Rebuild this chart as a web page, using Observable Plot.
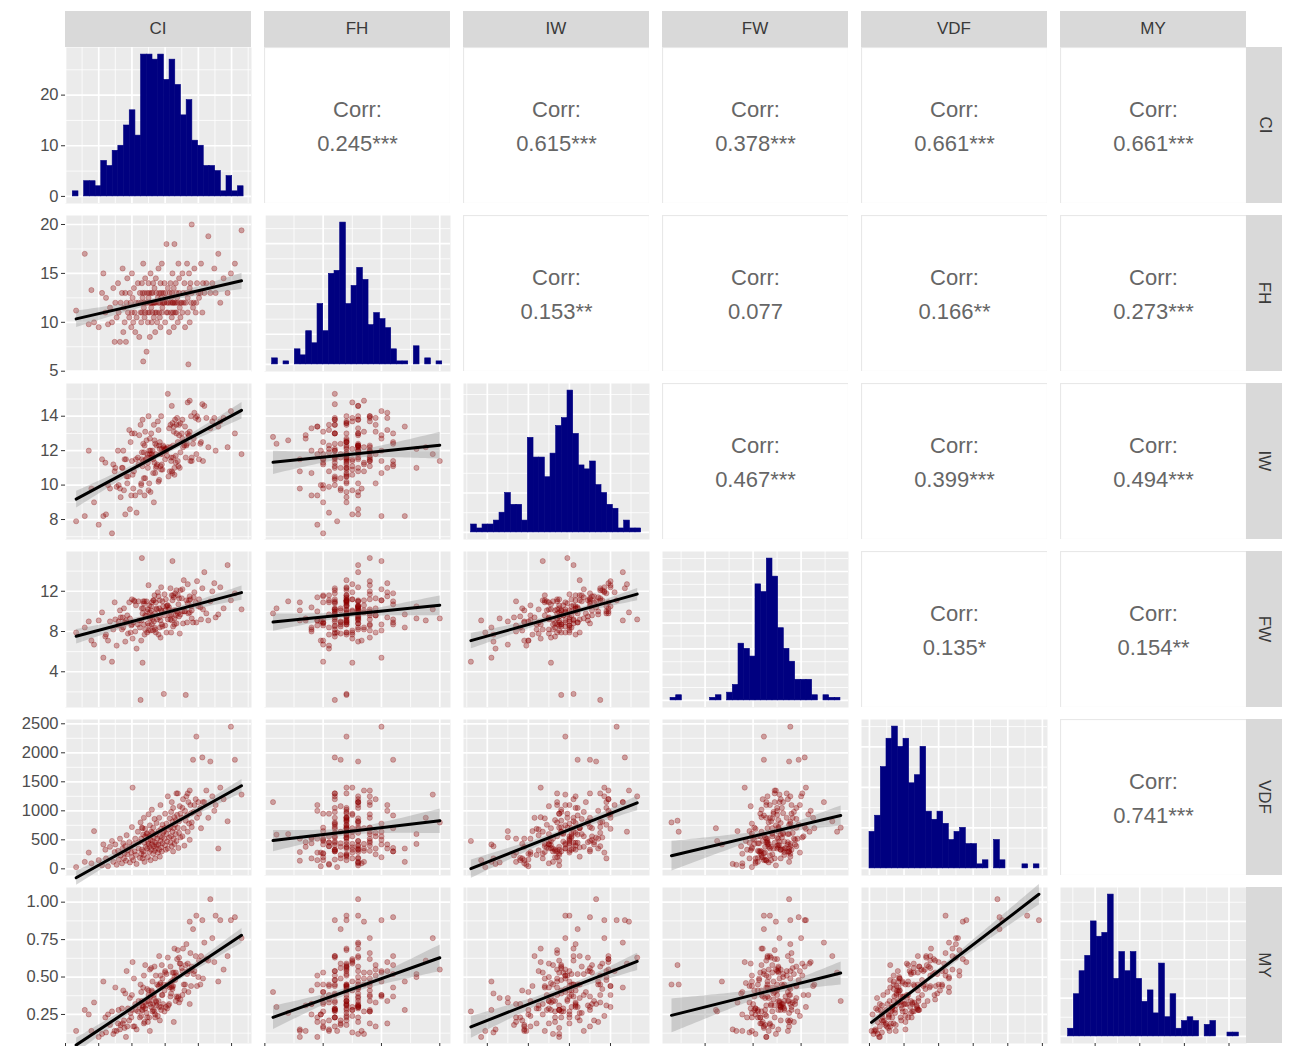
<!DOCTYPE html>
<html>
<head>
<meta charset="utf-8">
<script src="https://cdn.jsdelivr.net/npm/d3@7"></script>
<script src="https://cdn.jsdelivr.net/npm/@observablehq/plot@0.6"></script>
<style>
  body { margin: 0; background: #fff; }
  #chart { position: relative; width: 1290px; height: 1046px; overflow: hidden; background: #fff;
           font-family: "Liberation Sans", Arial, sans-serif; }
  .strip { position: absolute; background: #d9d9d9; color: #3a3a3a; font-size: 17px;
           display: flex; align-items: center; justify-content: center; }
  .strip.right span { transform: rotate(90deg); white-space: nowrap; display: inline-block; }
</style>
</head>
<body>
<div id="chart"></div>
<script>
const vars = ["CI", "FH", "IW", "FW", "VDF", "MY"];

// observations (one value per plant, same index across arrays)
const ci = [
31.6,32.9,33.5,33.9,34.3,35.0,35.5,35.7,36.0,36.1,
36.4,36.7,37.0,37.2,37.4,37.5,37.7,37.9,38.0,38.2,
38.3,38.5,38.6,38.7,38.8,38.9,39.0,39.1,39.2,39.3,
39.4,39.6,39.7,39.8,39.9,40.0,40.0,40.1,40.2,40.3,
40.4,40.5,40.6,40.7,40.9,41.0,41.1,41.2,41.3,41.4,
41.4,41.5,41.5,41.6,41.6,41.7,41.7,41.8,41.8,41.9,
41.9,42.0,42.0,42.1,42.2,42.3,42.3,42.4,42.4,42.5,
42.5,42.6,42.6,42.7,42.7,42.8,42.8,42.9,42.9,43.0,
43.0,43.1,43.1,43.2,43.2,43.3,43.3,43.4,43.4,43.5,
43.5,43.6,43.6,43.7,43.7,43.8,43.9,44.0,44.0,44.1,
44.1,44.2,44.2,44.3,44.3,44.4,44.4,44.5,44.5,44.6,
44.6,44.7,44.8,44.9,44.9,45.0,45.0,45.1,45.2,45.2,
45.3,45.4,45.4,45.5,45.6,45.7,45.8,45.8,45.9,45.9,
46.0,46.0,46.1,46.1,46.2,46.2,46.3,46.3,46.4,46.4,
46.5,46.6,46.6,46.7,46.7,46.8,46.9,46.9,47.0,47.1,
47.1,47.2,47.3,47.3,47.5,47.6,47.6,47.7,47.8,47.9,
48.0,48.1,48.2,48.3,48.4,48.4,48.5,48.6,48.7,48.7,
48.8,48.9,49.0,49.0,49.2,49.3,49.4,49.6,49.7,49.8,
50.0,50.1,50.3,50.4,50.6,50.7,50.9,51.2,51.5,51.8,
52.1,52.4,52.6,53.0,53.3,53.8,54.4,54.9,55.5,56.5];
const fh = [
11.2,17.0,9.8,13.3,10.0,9.5,13.0,15.0,11.0,12.5,
9.8,11.5,10.0,13.5,8.0,12.0,10.5,14.0,11.0,8.0,
12.0,13.0,15.5,9.0,11.5,10.0,13.0,8.0,12.0,14.5,
11.0,10.5,13.0,12.0,9.5,11.0,15.0,12.5,10.0,13.5,
11.0,9.0,12.0,10.5,14.0,12.0,8.5,13.0,11.0,12.0,
10.0,14.0,11.0,12.5,13.0,6.0,16.0,11.5,12.0,10.5,
13.0,14.5,11.0,12.0,7.0,12.0,13.0,11.0,10.0,14.0,
12.5,11.0,13.0,12.0,8.5,12.0,15.0,11.5,13.0,10.0,
12.0,13.0,11.0,12.0,14.0,10.5,12.0,13.5,12.0,11.0,
9.0,12.0,14.5,13.0,11.0,10.0,12.5,12.0,15.5,11.0,
13.0,10.5,12.0,9.5,14.0,12.5,13.0,11.0,16.0,12.0,
11.5,13.0,12.0,12.0,14.0,10.0,13.0,12.5,11.0,18.0,
12.0,11.0,13.5,12.0,9.0,13.0,12.0,14.0,11.0,12.5,
13.0,10.5,12.0,15.0,11.0,12.0,13.5,9.5,12.0,18.0,
11.0,12.0,14.0,11.0,13.0,12.5,10.0,12.0,16.0,13.0,
14.5,11.5,12.0,10.5,12.0,11.0,15.0,13.0,12.0,14.0,
9.5,12.0,13.0,16.0,11.0,12.5,5.7,15.0,13.5,10.0,
14.0,12.0,20.0,13.0,11.5,12.0,15.5,11.0,12.0,14.0,
13.0,12.5,13.0,16.0,11.0,14.0,13.0,14.0,18.8,13.0,
14.0,15.5,13.0,17.0,12.0,14.5,13.0,15.0,16.0,19.4];
const iw = [
7.9,8.2,12.0,9.8,9.0,7.7,11.5,8.2,11.3,8.3,
10.0,9.8,7.2,11.2,10.8,11.0,9.9,12.0,10.0,9.8,
9.3,11.0,11.0,12.0,9.7,11.5,8.3,11.5,10.5,10.1,
10.5,13.2,8.6,12.5,9.4,13.0,11.4,10.6,9.8,10.8,
13.0,9.4,11.5,8.4,11.6,11.2,12.9,9.6,13.5,10.1,
10.0,11.9,11.5,11.1,13.8,12.4,11.4,10.4,11.9,12.3,
9.4,13.1,10.4,11.5,12.6,11.6,11.8,11.0,11.3,14.0,
9.7,12.0,10.1,11.8,12.7,9.6,12.0,11.6,13.0,11.8,
11.6,12.0,11.7,10.7,11.5,13.5,9.0,11.3,12.6,12.4,
10.7,11.0,11.8,12.3,11.1,11.2,13.7,10.2,13.2,10.3,
12.3,12.1,12.5,11.8,11.1,10.9,14.0,12.1,11.2,10.9,
11.8,12.3,12.2,12.1,12.0,11.5,12.0,12.1,12.0,12.1,
11.7,15.3,12.2,10.5,13.3,10.8,13.5,12.2,11.6,11.4,
14.6,10.8,13.6,10.7,11.6,12.3,13.1,13.4,10.6,11.0,
13.8,11.3,11.7,13.5,13.0,13.9,12.5,11.4,11.1,12.9,
13.5,11.0,13.6,11.9,13.0,13.8,12.7,12.2,12.5,12.3,
13.4,11.6,12.3,12.4,13.0,14.8,12.8,12.9,14.9,13.1,
11.4,14.0,11.4,11.6,12.4,12.7,14.2,13.9,11.8,14.0,
13.8,11.5,12.4,12.5,14.7,11.4,14.6,13.9,12.2,13.3,
13.7,13.9,12.0,13.4,13.7,13.9,12.2,14.3,13.0,11.8];
const fw = [
7.9,8.4,9.0,7.1,6.7,9.1,9.9,5.4,7.5,7.7,
7.1,9.0,5.0,8.2,10.9,9.2,6.6,8.6,9.0,10.1,
9.4,8.2,9.4,8.4,10.3,8.9,7.0,9.1,8.9,9.6,
7.8,10.9,9.3,7.9,8.6,11.2,8.7,7.3,8.9,11.1,
11.0,8.0,10.6,6.3,8.7,11.0,9.1,8.4,1.2,9.1,
7.1,15.3,10.3,4.9,9.8,10.3,11.0,8.7,10.8,7.7,
11.0,9.6,8.2,9.5,11.0,7.9,10.0,10.2,8.8,12.6,
8.1,8.6,10.6,9.9,9.3,9.5,8.1,10.1,10.5,10.9,
8.7,9.2,9.6,11.1,8.1,11.1,9.0,8.4,11.6,9.8,
8.2,10.9,7.9,10.3,10.2,9.2,11.9,7.7,11.5,9.4,
10.3,8.4,11.1,9.1,7.4,10.1,12.4,10.0,8.7,11.0,
8.5,10.5,1.8,9.6,11.7,8.6,10.1,11.2,7.9,10.5,
10.6,9.2,10.6,10.2,10.4,9.6,12.3,9.2,9.7,7.9,
9.1,11.6,11.1,15.0,8.5,11.6,10.1,11.4,8.7,9.3,
11.8,10.1,9.6,12.1,8.8,10.0,11.6,9.8,10.7,9.5,
11.3,7.8,12.1,9.7,11.3,10.0,12.2,8.8,13.1,10.0,
10.0,1.7,11.1,8.9,10.8,12.7,9.8,11.1,9.9,11.5,
11.2,10.5,9.3,10.1,8.9,11.4,11.9,10.9,8.9,13.0,
10.5,11.2,10.4,9.2,12.3,10.2,13.9,9.8,9.1,11.0,
12.0,12.8,9.4,9.7,12.4,10.3,14.6,11.1,11.8,10.2];
const vdf = [
30,120,280,95,650,150,60,420,330,180,
45,380,480,120,290,420,70,310,160,520,
230,95,350,440,180,270,390,140,580,250,
320,460,110,370,280,720,200,1400,150,430,
300,520,240,85,640,350,460,190,800,520,
260,710,330,700,180,590,300,240,880,450,
120,560,690,380,600,610,350,470,200,940,
430,560,290,750,380,150,500,640,330,420,
1020,480,620,260,710,390,540,310,860,450,
180,600,350,790,410,520,280,650,420,880,
330,560,210,1100,480,370,690,540,300,760,
440,620,640,700,520,950,410,330,780,600,
470,1250,350,680,540,870,720,450,980,560,
1150,390,810,640,300,1050,700,520,890,430,
760,840,600,1300,480,930,710,1300,360,820,
620,1080,540,950,880,1050,560,1200,700,400,
1000,830,1250,920,1300,640,1150,780,1350,500,
1100,960,800,720,1880,980,1100,1200,2280,880,
1150,950,1050,700,1920,1150,1150,1350,880,1850,
1250,1000,1100,350,1400,1200,820,2450,1880,1280];
const my = [
0.14,0.28,0.25,0.14,0.33,0.10,0.12,0.47,0.23,0.13,
0.25,0.18,0.27,0.12,0.14,0.43,0.14,0.19,0.28,0.15,
0.18,0.29,0.19,0.41,0.21,0.16,0.39,0.10,0.54,0.17,
0.29,0.21,0.36,0.26,0.23,0.28,0.38,0.60,0.17,0.49,
0.17,0.32,0.28,0.15,0.27,0.34,0.31,0.23,0.45,0.24,
0.40,0.34,0.28,0.28,0.31,0.30,0.43,0.19,0.51,0.33,
0.20,0.58,0.29,0.31,0.26,0.23,0.42,0.34,0.20,0.38,
0.41,0.23,0.34,0.55,0.14,0.32,0.37,0.56,0.30,0.40,
0.41,0.47,0.27,0.32,0.28,0.38,0.36,0.27,0.57,0.23,
0.25,0.34,0.51,0.31,0.33,0.45,0.24,0.44,0.34,0.64,
0.30,0.45,0.21,0.51,0.46,0.28,0.30,0.38,0.58,0.38,
0.49,0.32,0.45,0.41,0.27,0.53,0.54,0.30,0.44,0.52,
0.29,0.63,0.45,0.31,0.32,0.43,0.57,0.37,0.39,0.47,
0.43,0.44,0.42,0.53,0.48,0.44,0.53,0.20,0.69,0.50,
0.48,0.34,0.53,0.51,0.37,0.62,0.36,0.68,0.37,0.63,
0.33,0.59,0.59,0.35,0.56,0.54,0.38,0.69,0.45,0.41,
0.45,0.58,0.72,0.52,0.54,0.59,0.40,0.54,0.87,0.32,
0.66,0.44,0.55,0.57,0.82,0.52,0.54,0.64,0.91,0.44,
0.50,0.61,0.45,0.64,0.88,0.49,0.73,0.62,0.61,1.02,
0.76,0.60,0.91,0.47,0.88,0.55,0.64,0.88,0.90,0.76];

// histogram bin counts (30 bins)
const ciCounts  = [1,0,3,3,2,7,6,9,10,14,17,12,28,28,27,28,23,27,22,16,19,11,10,6,6,5,1,4,1,2];
const fhCounts  = [2,0,1,0,5,3,11,7,20,11,30,31,47,20,26,32,28,13,17,15,12,5,1,1,0,6,0,2,0,1];
const iwCounts  = [2,1,2,2,3,5,10,7,7,3,24,19,19,14,20,27,29,36,25,17,16,18,12,10,7,6,1,3,1,1];
const fwCounts  = [1,2,0,0,0,0,0,1,2,0,3,6,22,20,17,45,42,55,48,28,20,15,8,8,8,2,0,2,1,1];
const vdfCounts = [9,13,25,32,35,30,32,21,23,30,14,12,14,11,7,9,10,6,6,1,2,0,7,2,0,0,0,1,0,1];
const myCounts  = [2,11,17,21,30,26,27,37,15,22,17,22,15,9,12,6,19,5,11,2,4,5,4,0,3,4,0,0,1,1];
const binStarts = [31.1, 5.63, 7.215, 1.12, 0.7, 0.099];
const binWidths = [0.857, 0.486, 0.276, 0.472, 81.9, 0.03187];

// upper-triangle labels, row by row
const corrLabels = ["0.245***","0.615***","0.378***","0.661***","0.661***",
                    "0.153**","0.077","0.166**","0.273***",
                    "0.467***","0.399***","0.494***",
                    "0.135*","0.154**",
                    "0.741***"];

// scale domains and breaks per variable
const domains = [[30, 58], [4.97, 20.92], [6.84, 15.9], [0.45, 15.95], [-115, 2574], [0.056, 1.098]];
const breaks = [[30,35,40,45,50,55],[5,10,15,20],[8,10,12,14],[4,8,12],[0,500,1000,1500,2000,2500],[0.25,0.5,0.75,1]];
const minorBreaks = [[32.5,37.5,42.5,47.5,52.5,57.5],[7.5,12.5,17.5],[7,9,11,13,15],[2,6,10,14],[250,750,1250,1750,2250],[0.125,0.375,0.625,0.875]];
const countBreaks = [0,10,20,30,40,50,60];
const countMinor = [5,15,25,35,45,55];

const obs = ci.map((_, k) => ({CI: ci[k], FH: fh[k], IW: iw[k], FW: fw[k], VDF: vdf[k], MY: my[k]}));
const counts = [ciCounts, fhCounts, iwCounts, fwCounts, vdfCounts, myCounts];

const colX = [65, 264, 463, 662, 861, 1060];
const rowY = [47, 215, 383, 551, 719, 887];
const PW = 186, PH = 156;
const FONT = "'Liberation Sans', Arial, Helvetica, sans-serif";

const inside = (vals, d) => vals.filter(v => v >= Math.min(...d) && v <= Math.max(...d));
const fmtFor = (i) => i === 5 ? d3.format(".2f") : d3.format("d");

function grid(xd, xMaj, xMin, yd, yMaj, yMin) {
  return [
    Plot.frame({fill: "#ebebeb", stroke: "none"}),
    Plot.ruleX(inside(xMin, xd), {stroke: "white", strokeWidth: 0.8}),
    Plot.ruleY(inside(yMin, yd), {stroke: "white", strokeWidth: 0.8}),
    Plot.ruleX(inside(xMaj, xd), {stroke: "white", strokeWidth: 1.7}),
    Plot.ruleY(inside(yMaj, yd), {stroke: "white", strokeWidth: 1.7})
  ];
}

let corrIndex = 0;
function makePanel(i, j) {
  const left = j === 0, bottom = i === 5;
  const mL = left ? 65 : 0, mB = bottom ? 8 : 0;
  const xd = domains[j];
  let yd, yMaj, marks = [];
  if (i < j) {
    const label = corrLabels[corrIndex++];
    return Plot.plot({
      width: PW, height: PH, margin: 0,
      style: {fontFamily: FONT, background: "transparent"},
      marks: [
        Plot.frame({fill: "white", stroke: "#e8e8e8", strokeWidth: 1.2}),
        Plot.text(["Corr:"], {frameAnchor: "middle", dy: -16, fontSize: 22, fill: "#666"}),
        Plot.text([label], {frameAnchor: "middle", dy: 18, fontSize: 22, fill: "#666"})
      ]
    });
  }
  if (i === j) {
    const c = counts[j];
    const maxC = d3.max(c);
    yd = [-0.05 * maxC, 1.05 * maxC];
    yMaj = countBreaks;
    const bins = c.map((n, k) => ({x1: binStarts[j] + k * binWidths[j], x2: binStarts[j] + (k + 1) * binWidths[j], count: n}))
                  .filter(b => b.count > 0);
    marks = grid(xd, breaks[j], minorBreaks[j], yd, countBreaks, countMinor);
    marks.push(Plot.rect(bins, {x1: "x1", x2: "x2", y1: () => 0, y2: "count", fill: "#000080", stroke: "#000080", strokeWidth: 0.6}));
  } else {
    yd = domains[i];
    yMaj = breaks[i];
    marks = grid(xd, breaks[j], minorBreaks[j], yd, breaks[i], minorBreaks[i]);
    marks.push(Plot.dot(obs, {x: vars[j], y: vars[i], r: 2.6, fill: "#8b0000", fillOpacity: 0.33,
                              stroke: "#8b0000", strokeOpacity: 0.33, strokeWidth: 0.8}));
    marks.push(Plot.linearRegressionY(obs, {x: vars[j], y: vars[i], stroke: "black", strokeWidth: 3,
                                             fill: "#8c8c8c", fillOpacity: 0.35}));
  }
  if (left) {
    marks.push(Plot.axisY({ticks: inside(yMaj, yd), label: null, tickSize: 4, tickPadding: 3, fontSize: 16.5,
                           tickFormat: i === 0 ? d3.format("d") : fmtFor(i), stroke: "#333", fill: "#4d4d4d"}));
  }
  if (bottom) {
    marks.push(Plot.axisX({ticks: inside(breaks[j], xd), label: null, tickSize: 5, tickFormat: () => "", stroke: "#333"}));
  }
  return Plot.plot({
    width: PW + mL, height: PH + mB,
    marginLeft: mL, marginRight: 0, marginTop: 0, marginBottom: mB,
    x: bottom ? {domain: xd, label: null} : {domain: xd, axis: null},
    y: left ? {domain: yd, label: null} : {domain: yd, axis: null},
    style: {fontFamily: FONT, background: "transparent", overflow: "visible"},
    marks
  });
}

const chart = document.getElementById("chart");
for (let i = 0; i < 6; i++) {
  for (let j = 0; j < 6; j++) {
    const el = makePanel(i, j);
    el.style.position = "absolute";
    el.style.left = (colX[j] - (j === 0 ? 65 : 0)) + "px";
    el.style.top = rowY[i] + "px";
    el.style.maxWidth = "none";
    chart.appendChild(el);
  }
}
vars.forEach((v, j) => {
  const d = document.createElement("div");
  d.className = "strip";
  d.style.left = colX[j] + "px"; d.style.top = "11px";
  d.style.width = PW + "px"; d.style.height = "36px";
  d.textContent = v;
  chart.appendChild(d);
});
vars.forEach((v, i) => {
  const d = document.createElement("div");
  d.className = "strip right";
  d.style.left = "1246px"; d.style.top = rowY[i] + "px";
  d.style.width = "36px"; d.style.height = PH + "px";
  const s = document.createElement("span");
  s.textContent = v;
  d.appendChild(s);
  chart.appendChild(d);
});
</script>
</body>
</html>
